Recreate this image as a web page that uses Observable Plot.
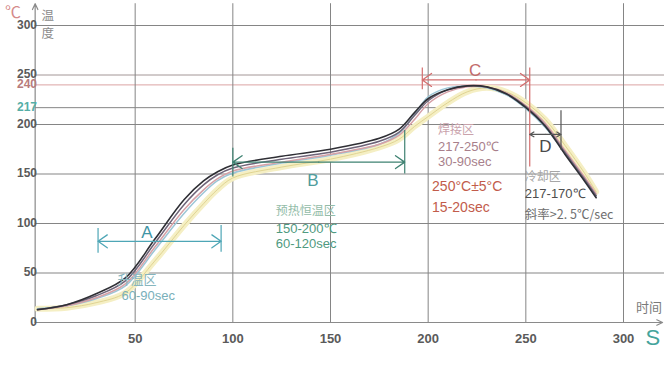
<!DOCTYPE html>
<html><head><meta charset="utf-8">
<script src="https://cdn.jsdelivr.net/npm/d3@7"></script>
<script src="https://cdn.jsdelivr.net/npm/@observablehq/plot@0.6"></script>
<style>body{margin:0;background:#fff;} svg{display:block;}</style>
</head><body><div id="chart"></div>
<script>
// ---- data ----
const times      = [0, 15, 30, 45, 60, 75, 85, 92, 100, 125, 150, 175, 185, 193, 200, 210, 220, 230, 240, 250, 260, 270, 280, 286];
const blackCurve = [13, 18, 29, 45, 84, 124, 143, 152, 159, 168, 175, 186, 195, 212, 226, 235, 239, 238, 231, 217, 198, 170, 143, 126];
const grayCurve  = [13, 18, 27, 42, 80, 119, 139, 149, 156, 165, 172, 183, 192, 209, 224, 235, 239, 238, 231, 218, 199, 172, 145, 128];
const pinkCurve  = [13, 17, 25, 39, 76, 114, 134, 145, 153, 162, 170, 180, 189, 205, 221, 233, 238, 238, 232, 219, 201, 174, 147, 130];
const blueCurve  = [14, 17, 24, 37, 73, 110, 131, 143, 151, 161, 169, 180, 191, 210, 228, 237, 239, 237, 230, 216, 197, 171, 144, 128];
const yellowCurve= [14, 15, 20, 30, 62, 98, 120, 134, 146, 157, 165, 177, 185, 198, 208, 222, 233, 237, 233, 222, 205, 179, 151, 132];

const yGrid  = [50, 100, 150, 200, 217, 240, 250, 300];
const xGrid  = [50, 100, 150, 200, 250, 300];
const yTicks = [0, 50, 100, 150, 200, 217, 240, 250, 300];
const xTicks = [50, 100, 150, 200, 250, 300];

const spanLabels = ["A", "B", "C", "D"];
const spanStart  = [31, 100, 197, 252];
const spanEnd    = [94, 188, 252, 268];
const spanLevel  = [82, 162, 245, 190];
const spanLabelT = [56, 141, 224, 260];
const spanLabelTemp = [91, 143, 255, 178];

const tickSpan = ["A", "A", "B", "B", "C", "C", "D"];
const tickT    = [31, 94, 100, 188, 197, 252, 268];
const tickLo   = [70, 71, 147, 150, 235, 157, 174];
const tickHi   = [95, 98, 176, 194, 257, 257, 214];

const noteText = ["升温区", "60-90sec", "预热恒温区", "150-200℃", "60-120sec", "焊接区", "217-250℃", "30-90sec", "250°C±5°C", "15-20sec", "冷却区", "217-170℃", "斜率>2. 5℃/sec"];
const noteT    = [41, 43, 122, 122, 122, 205, 205, 205, 202, 202, 249.5, 249.5, 249.5];
const noteTemp = [43, 27, 112, 95, 79, 194, 177, 162, 137, 116.5, 147, 130, 109];

// ---- styles ----
const seriesStyle = [
  {values: yellowCurve, stroke: "#f5efc4", width: 6},
  {values: yellowCurve, stroke: "#e0d492", width: 1},
  {values: blueCurve, stroke: "#9cc6d6", width: 1.5},
  {values: pinkCurve, stroke: "#d6a0a6", width: 1.5},
  {values: grayCurve, stroke: "#6e6478", width: 1.5},
  {values: blackCurve, stroke: "#2f2f35", width: 1.6}
];
const spanColor = {A: "#4ea6b6", B: "#3f8272", C: "#d46e6e", D: "#555555"};
const spanTextColor = {A: "#3f96a6", B: "#4f9c9c", C: "#c26a6a", D: "#4a4a4a"};
const gridColor = v => v === 240 ? "#dba4a4" : v === 250 ? "#a39696" : "#858585";
const yTickColor = v => v === 240 ? "#b87c7c" : v === 217 ? "#55aea6" : "#5a5a5a";
const yTickDy = v => v === 0 ? 6 : v === 240 ? 3 : v === 250 ? -3 : v === 217 ? -1 : v === 200 ? 1 : v === 300 ? 2 : 0;
const noteStyle = [
  {fill: "#86b6be", size: 13, weight: 400},
  {fill: "#79b0ba", size: 13, weight: 600},
  {fill: "#93bca8", size: 12, weight: 400},
  {fill: "#4f9a80", size: 13, weight: 600},
  {fill: "#4f9a80", size: 13, weight: 600},
  {fill: "#c9a2ab", size: 12, weight: 400},
  {fill: "#a87f8b", size: 13, weight: 600},
  {fill: "#a87f8b", size: 13, weight: 600},
  {fill: "#c25c4b", size: 14, weight: 400},
  {fill: "#c25c4b", size: 14, weight: 400},
  {fill: "#a6a6a6", size: 12, weight: 400},
  {fill: "#4e4e4e", size: 13, weight: 700},
  {fill: "#6e6e6e", size: 12.5, weight: 400}
];

// ---- tables ----
const curveMarks = seriesStyle.map(s =>
  Plot.line(times.map((t, i) => ({t, T: s.values[i]})),
    {x: "t", y: "T", stroke: s.stroke, strokeWidth: s.width, curve: "catmull-rom", strokeLinejoin: "round"}));

const halfArrows = [];
spanLabels.forEach((lab, i) => {
  const mid = (spanStart[i] + spanEnd[i]) / 2;
  halfArrows.push({label: lab, x1: mid, x2: spanStart[i], y: spanLevel[i]});
  halfArrows.push({label: lab, x1: mid, x2: spanEnd[i], y: spanLevel[i]});
});
const ticks = tickT.map((t, i) => ({label: tickSpan[i], t, lo: tickLo[i], hi: tickHi[i]}));
const spanText = spanLabels.map((lab, i) => ({label: lab, t: spanLabelT[i], T: spanLabelTemp[i]}));
const isCJK = s => /[\u4e00-\u9fff]/.test(s);
const notes = noteText.map((text, i) => ({text, t: noteT[i], T: noteTemp[i], ...noteStyle[i]}));

const font = "'Liberation Sans', Arial, sans-serif";
const cjk = "'Noto Sans CJK SC', 'Liberation Sans', sans-serif";

const chart = Plot.plot({
  width: 664, height: 377,
  marginLeft: 37, marginRight: 41, marginTop: 25, marginBottom: 55,
  x: {domain: [0, 300], axis: null},
  y: {domain: [0, 300], axis: null},
  color: {type: "identity"},
  style: {fontFamily: font, background: "#fff", overflow: "visible"},
  marks: [
    Plot.ruleY(yGrid, {y: d => d, x1: -1.2, x2: 321, stroke: d => gridColor(d), strokeWidth: 1}),
    Plot.ruleX(xGrid, {x: d => d, y1: 0, y2: 322, stroke: "#858585", strokeWidth: 1}),
    // axes with arrow heads
    Plot.arrow([{x1: -1.2, y1: 0, x2: -1.2, y2: 322}], {x1: "x1", y1: "y1", x2: "x2", y2: "y2", stroke: "#8a8a8a", strokeWidth: 1.2, headLength: 8, headAngle: 50}),
    Plot.arrow([{x1: -1.2, y1: 0, x2: 320, y2: 0}], {x1: "x1", y1: "y1", x2: "x2", y2: "y2", stroke: "#8a8a8a", strokeWidth: 1.2, headLength: 8, headAngle: 50}),
    ...curveMarks,
    // span brackets
    Plot.ruleX(ticks, {x: "t", y1: "lo", y2: "hi", stroke: d => spanColor[d.label], strokeWidth: 1.2}),
    Plot.arrow(halfArrows.filter(d => d.label !== "D"), {x1: "x1", x2: "x2", y1: "y", y2: "y", stroke: d => spanColor[d.label], strokeWidth: 1.3, headLength: 13, headAngle: 70}),
    Plot.arrow(halfArrows.filter(d => d.label === "D"), {x1: "x1", x2: "x2", y1: "y", y2: "y", stroke: d => spanColor[d.label], strokeWidth: 1.2, headLength: 6, headAngle: 60}),
    Plot.text(spanText, {x: "t", y: "T", text: "label", fill: d => spanTextColor[d.label], fontSize: 17, fontFamily: font}),
    // annotation notes
    Plot.text(notes.filter(d => isCJK(d.text)), {x: "t", y: "T", text: "text", fill: "fill", fontSize: "size", fontWeight: d => d.weight, textAnchor: "start", fontFamily: cjk}),
    Plot.text(notes.filter(d => !isCJK(d.text)), {x: "t", y: "T", text: "text", fill: "fill", fontSize: "size", fontWeight: d => d.weight, textAnchor: "start", fontFamily: font}),
    // tick labels
    Plot.text(yTicks, {x: 0, y: d => d, text: d => String(d), dx: d => d === 0 ? -17 : -7, dy: d => yTickDy(d), textAnchor: "end", fill: d => yTickColor(d), fontSize: 12, fontWeight: 700, fontFamily: font}),
    Plot.text(xTicks, {x: d => d, y: -16, text: d => String(d), fill: "#5a5a5a", fontSize: 13, fontWeight: 700, fontFamily: font}),
    // axis titles
    Plot.text(["℃"], {x: -12.5, y: 313, text: d => d, fill: "#d58b8b", fontSize: 16, fontFamily: cjk}),
    Plot.text(["温", "度"], {x: 5.3, y: (d, i) => [309.5, 291.5][i], text: d => d, fill: "#8a8a8a", fontSize: 12.5, fontFamily: "'Noto Sans CJK SC', serif"}),
    Plot.text(["时间"], {x: 313, y: 14.4, text: d => d, fill: "#7a7a7a", fontSize: 13, fontFamily: cjk}),
    Plot.text(["S"], {x: 315, y: -16, text: d => d, fill: "#45a49c", fontSize: 22, fontFamily: font})
  ]
});
document.getElementById("chart").appendChild(chart);
</script>
</body></html>
